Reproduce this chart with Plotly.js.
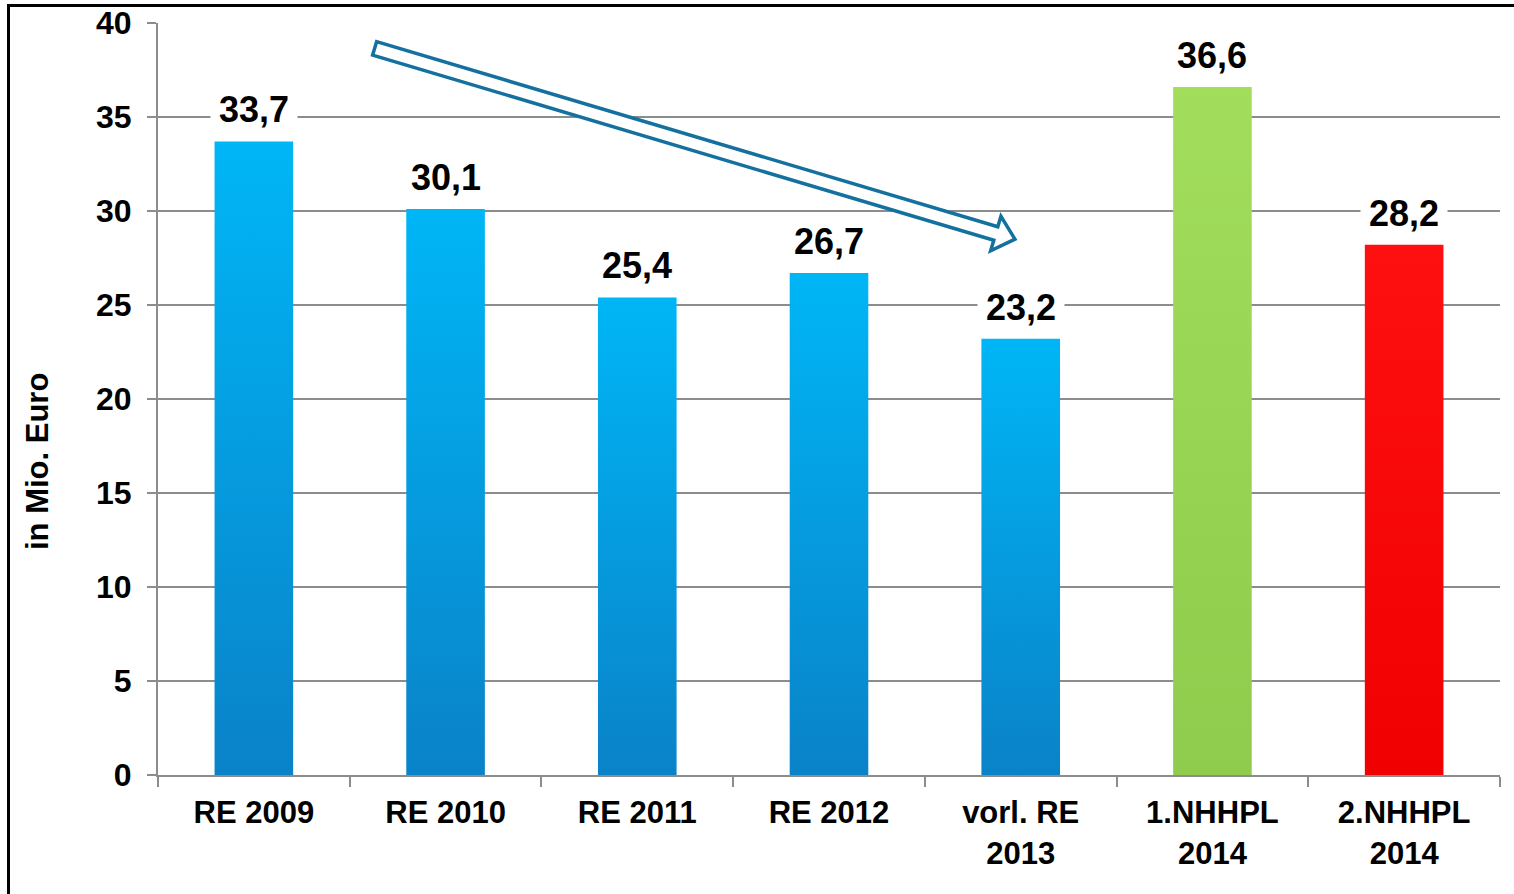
<!DOCTYPE html>
<html>
<head>
<meta charset="utf-8">
<script src="https://cdn.plot.ly/plotly-3.0.1.min.js"></script>
<style>
  html, body { margin: 0; padding: 0; background: #fff; }
  #wrap { position: relative; width: 1514px; height: 894px; overflow: hidden; }
  #chart { position: absolute; left: 0; top: 0; width: 1514px; height: 894px; }
  #frame { position: absolute; left: 7px; top: 4px; width: 1600px; height: 1000px;
           border-left: 3px solid #000; border-top: 3px solid #000; pointer-events: none; }
</style>
</head>
<body>
<div id="wrap">
  <div id="chart"></div>
  <div id="frame"></div>
</div>
<script>
// ---- data ----
const categories = ['RE 2009', 'RE 2010', 'RE 2011', 'RE 2012', 'vorl. RE<br>2013', '1.NHHPL<br>2014', '2.NHHPL<br>2014'];
const values = [33.7, 30.1, 25.4, 26.7, 23.2, 36.6, 28.2];
const barColors = ['#0AA0E6', '#0AA0E6', '#0AA0E6', '#0AA0E6', '#0AA0E6', '#9BDA55', '#FF0505'];
const yTicks = [0, 5, 10, 15, 20, 25, 30, 35, 40];
const yTitle = 'in Mio. Euro';

// ---- layout geometry ----
const W = 1514, H = 894;
const M = { l: 158, r: 14, t: 23, b: 119 };
const PW = W - M.l - M.r, PH = H - M.t - M.b;
const XR = [-0.5, categories.length - 0.5], YR = [0, 40];
const FONT = 'Liberation Sans, Arial, sans-serif';

const trace = {
  type: 'bar',
  x: categories,
  y: values,
  marker: { color: barColors, line: { width: 0 } },
  hoverinfo: 'x+y'
};

const annotations = values.map((v, i) => ({
  x: categories[i], y: v, xref: 'x', yref: 'y',
  text: v.toFixed(1).replace('.', ','),
  showarrow: false, yanchor: 'bottom', yshift: 2,
  bgcolor: '#ffffff', borderpad: 8,
  font: { family: FONT, size: 36, color: '#000', weight: 'bold' }
}));
annotations.push({
  xref: 'paper', yref: 'paper', x: (38 - M.l) / PW, y: (M.t + PH - 462) / PH,
  text: yTitle, textangle: -90, showarrow: false,
  xanchor: 'center', yanchor: 'middle',
  font: { family: FONT, size: 31, color: '#000', weight: 'bold' }
});

// hollow block arrow (decorative), defined in axis coordinates
const arrowStart = { x: 0.63, y: 38.65 };
const arrowEnd = { x: 3.97, y: 28.5 };
function toPx(p) {
  return [M.l + (p.x - XR[0]) / (XR[1] - XR[0]) * PW, M.t + PH - (p.y - YR[0]) / (YR[1] - YR[0]) * PH];
}
function toData(px) {
  return [XR[0] + (px[0] - M.l) / PW * (XR[1] - XR[0]), YR[0] + (M.t + PH - px[1]) / PH * (YR[1] - YR[0])];
}
const S = toPx(arrowStart), E = toPx(arrowEnd);
const dx = E[0] - S[0], dy = E[1] - S[1], len = Math.hypot(dx, dy);
const u = [dx / len, dy / len], n = [-u[1], u[0]];
const w = 7, hw = 18, hl = 20;
const B = [E[0] - u[0] * hl, E[1] - u[1] * hl];
const poly = [
  [S[0] + n[0] * w, S[1] + n[1] * w],
  [B[0] + n[0] * w, B[1] + n[1] * w],
  [B[0] + n[0] * hw, B[1] + n[1] * hw],
  E,
  [B[0] - n[0] * hw, B[1] - n[1] * hw],
  [B[0] - n[0] * w, B[1] - n[1] * w],
  [S[0] - n[0] * w, S[1] - n[1] * w]
].map(toData);
const arrowPath = 'M ' + poly.map(p => p[0].toFixed(4) + ',' + p[1].toFixed(4)).join(' L ') + ' Z';

const layout = {
  width: W, height: H,
  margin: M,
  paper_bgcolor: '#fff', plot_bgcolor: '#fff',
  showlegend: false,
  bargap: 0.59,
  font: { family: FONT, color: '#000' },
  xaxis: {
    type: 'category', range: XR,
    tickson: 'boundaries', ticks: 'outside', ticklen: 10, tickwidth: 2, tickcolor: '#8c8c8c',
    showline: true, linecolor: '#8c8c8c', linewidth: 2,
    showgrid: false, zeroline: false,
    tickfont: { family: FONT, size: 31, color: '#000', weight: 'bold' },
    ticklabelstandoff: 9,
    automargin: false
  },
  yaxis: {
    range: YR, tickvals: yTicks, ticktext: yTicks.map(String),
    ticks: 'outside', ticklen: 9, tickwidth: 2, tickcolor: '#8c8c8c',
    showline: true, linecolor: '#8c8c8c', linewidth: 2,
    showgrid: true, gridcolor: '#8c8c8c', gridwidth: 2, zeroline: false,
    tickfont: { family: FONT, size: 32, color: '#000', weight: 'bold' },
    ticklabelstandoff: 9,
    automargin: false
  },
  annotations: annotations,
  shapes: [{
    type: 'path', xref: 'x', yref: 'y', path: arrowPath,
    line: { color: '#14719F', width: 3.5 }, fillcolor: '#ffffff', layer: 'above'
  }]
};

Plotly.newPlot('chart', [trace], layout, { displayModeBar: false, staticPlot: true }).then(gd => {
  // vertical gradient fill for the bars (light top, darker bottom)
  const svg = gd.querySelector('svg.main-svg');
  const ns = 'http://www.w3.org/2000/svg';
  let defs = svg.querySelector('defs');
  if (!defs) { defs = document.createElementNS(ns, 'defs'); svg.insertBefore(defs, svg.firstChild); }
  const grads = {
    '#0AA0E6': ['#00B6F6', '#0A82C8'],
    '#9BDA55': ['#A2DE5C', '#8FCB4C'],
    '#FF0505': ['#FF1010', '#F00000']
  };
  Object.keys(grads).forEach((k, gi) => {
    const g = document.createElementNS(ns, 'linearGradient');
    g.setAttribute('id', 'bargrad' + gi);
    g.setAttribute('x1', '0'); g.setAttribute('y1', '0'); g.setAttribute('x2', '0'); g.setAttribute('y2', '1');
    [[0, grads[k][0]], [1, grads[k][1]]].forEach(([o, c]) => {
      const s = document.createElementNS(ns, 'stop');
      s.setAttribute('offset', o); s.setAttribute('stop-color', c);
      g.appendChild(s);
    });
    defs.appendChild(g);
    grads[k].id = 'bargrad' + gi;
  });
  const paths = gd.querySelectorAll('.barlayer .point path');
  paths.forEach((p, i) => {
    const g = grads[barColors[i]];
    if (g) p.style.fill = 'url(#' + g.id + ')';
  });
});
</script>
</body>
</html>
